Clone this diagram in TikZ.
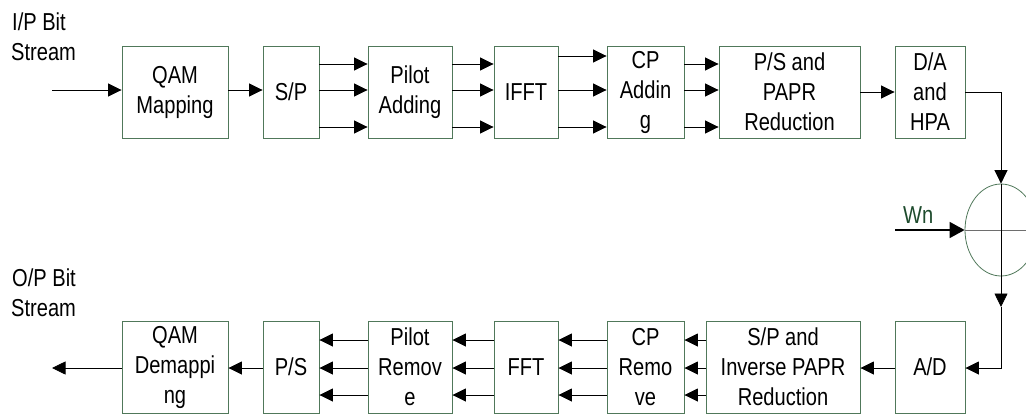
\documentclass[tikz,border=0pt]{standalone}
\usepackage{fontspec}
\setmainfont{Liberation Sans}[FakeStretch=0.82]
\usetikzlibrary{arrows.meta,shapes.geometric}
\definecolor{boxgreen}{RGB}{80,120,90}
\definecolor{wngreen}{RGB}{30,75,45}
\definecolor{crossgray}{RGB}{110,110,110}
\begin{document}
\begin{tikzpicture}[x=1pt,y=-1pt,
  blk/.style={draw=boxgreen, line width=0.9pt, minimum height=92pt, inner sep=0pt, align=center, font=\fontsize{24.5}{30}\selectfont},
  lbl/.style={anchor=base west, inner sep=0pt, font=\fontsize{24.5}{30}\selectfont},
  arr/.style={-{Triangle[length=13.5pt,width=13pt]}, line width=0.8pt},
  ln/.style={line width=0.8pt}]
\useasboundingbox (0,0) rectangle (1026,413);
% levels
\coordinate (ya) at (0,64);
\coordinate (yb) at (0,90);
\coordinate (yc) at (0,127);
\coordinate (yd) at (0,56);
\coordinate (ye) at (0,92);
\coordinate (za) at (0,340);
\coordinate (zb) at (0,368);
\coordinate (zc) at (0,395);
% labels
\node[lbl] (ip1) at (12,30) {I/P Bit};
\node[lbl] (ip2) at (11,60) {Stream};
\node[lbl] (op1) at (12,286) {O/P Bit};
\node[lbl] (op2) at (11,316) {Stream};
% top row
\node[blk, minimum width=106pt] (QAM) at (175,92) {QAM\\Mapping};
\node[blk, minimum width=56pt] (SP) at (291,92) {S/P};
\node[blk, minimum width=84pt] (PA) at (410,92) {Pilot\\Adding};
\node[blk, minimum width=64pt] (IFFT) at (526,92) {IFFT};
\node[blk, minimum width=77pt] (CPA) at (645.5,92) {CP\\Addin\\g};
\node[blk, minimum width=141pt] (PS) at (789.5,92) {P/S and\\PAPR\\Reduction};
\node[blk, minimum width=70pt] (DA) at (930,92) {D/A\\and\\HPA};
% bottom row
\node[blk, minimum width=106pt] (QAMD) at (175,367) {QAM\\Demappi\\ng};
\node[blk, minimum width=56pt] (PSb) at (291,367) {P/S};
\node[blk, minimum width=84pt] (PR) at (410,367) {Pilot\\Remov\\e};
\node[blk, minimum width=64pt] (FFT) at (526,367) {FFT};
\node[blk, minimum width=77pt] (CPR) at (645.5,367) {CP\\Remo\\ve};
\node[blk, minimum width=154pt] (SPb) at (783,367) {S/P and\\Inverse PAPR\\Reduction};
\node[blk, minimum width=70pt] (AD) at (930,367) {A/D};
% adder
\node[draw=boxgreen, line width=0.8pt, ellipse, minimum width=72pt, minimum height=92pt, inner sep=0pt] (sum) at (1001,230) {};
\draw[crossgray, line width=0.9pt] (sum.west) -- ++(80,0);
\draw[ln] (sum.north) -- (sum.south);
% input / output
\coordinate (in) at (52,90);
\coordinate (out) at (52,368);
\draw[arr] (in) -- (QAM.west |- in);
\draw[arr] (QAMD.west |- out) -- (out);
% top connectors
\draw[arr] (QAM.east |- yb) -- (SP.west |- yb);
\foreach \l in {ya,yb,yc} {
  \draw[arr] (SP.east |- \l) -- (PA.west |- \l);
  \draw[arr] (PA.east |- \l) -- (IFFT.west |- \l);
  \draw[arr] (CPA.east |- \l) -- (PS.west |- \l);
}
\draw[arr] (IFFT.east |- yd) -- (CPA.west |- yd);
\draw[arr] (IFFT.east |- yb) -- (CPA.west |- yb);
\draw[arr] (IFFT.east |- yc) -- (CPA.west |- yc);
\draw[arr] (PS.east |- ye) -- (DA.west |- ye);
% right side loop
\coordinate (c1) at (1001,92);
\coordinate (c2) at (1001,307);
\coordinate (c3) at (1001,368);
\draw[arr] (DA.east |- c1) -- (c1) -- (sum.north);
\draw[arr] (sum.south) -- (c2);
\draw[arr] (c2) -- (c3) -- (AD.east |- c3);
% Wn
\coordinate (wn) at (895,230);
\draw[-{Triangle[length=15pt,width=16pt]}, line width=1.6pt] (wn) -- (sum.west);
\node[lbl, text=wngreen] (wnl) at (903,223) {Wn};
% bottom connectors
\draw[arr] (AD.west |- zb) -- (SPb.east |- zb);
\foreach \l in {za,zb,zc} {
  \draw[arr] (SPb.west |- \l) -- (CPR.east |- \l);
  \draw[arr] (CPR.west |- \l) -- (FFT.east |- \l);
  \draw[arr] (FFT.west |- \l) -- (PR.east |- \l);
  \draw[arr] (PR.west |- \l) -- (PSb.east |- \l);
}
\draw[arr] (PSb.west |- zb) -- (QAMD.east |- zb);
\end{tikzpicture}
\end{document}
